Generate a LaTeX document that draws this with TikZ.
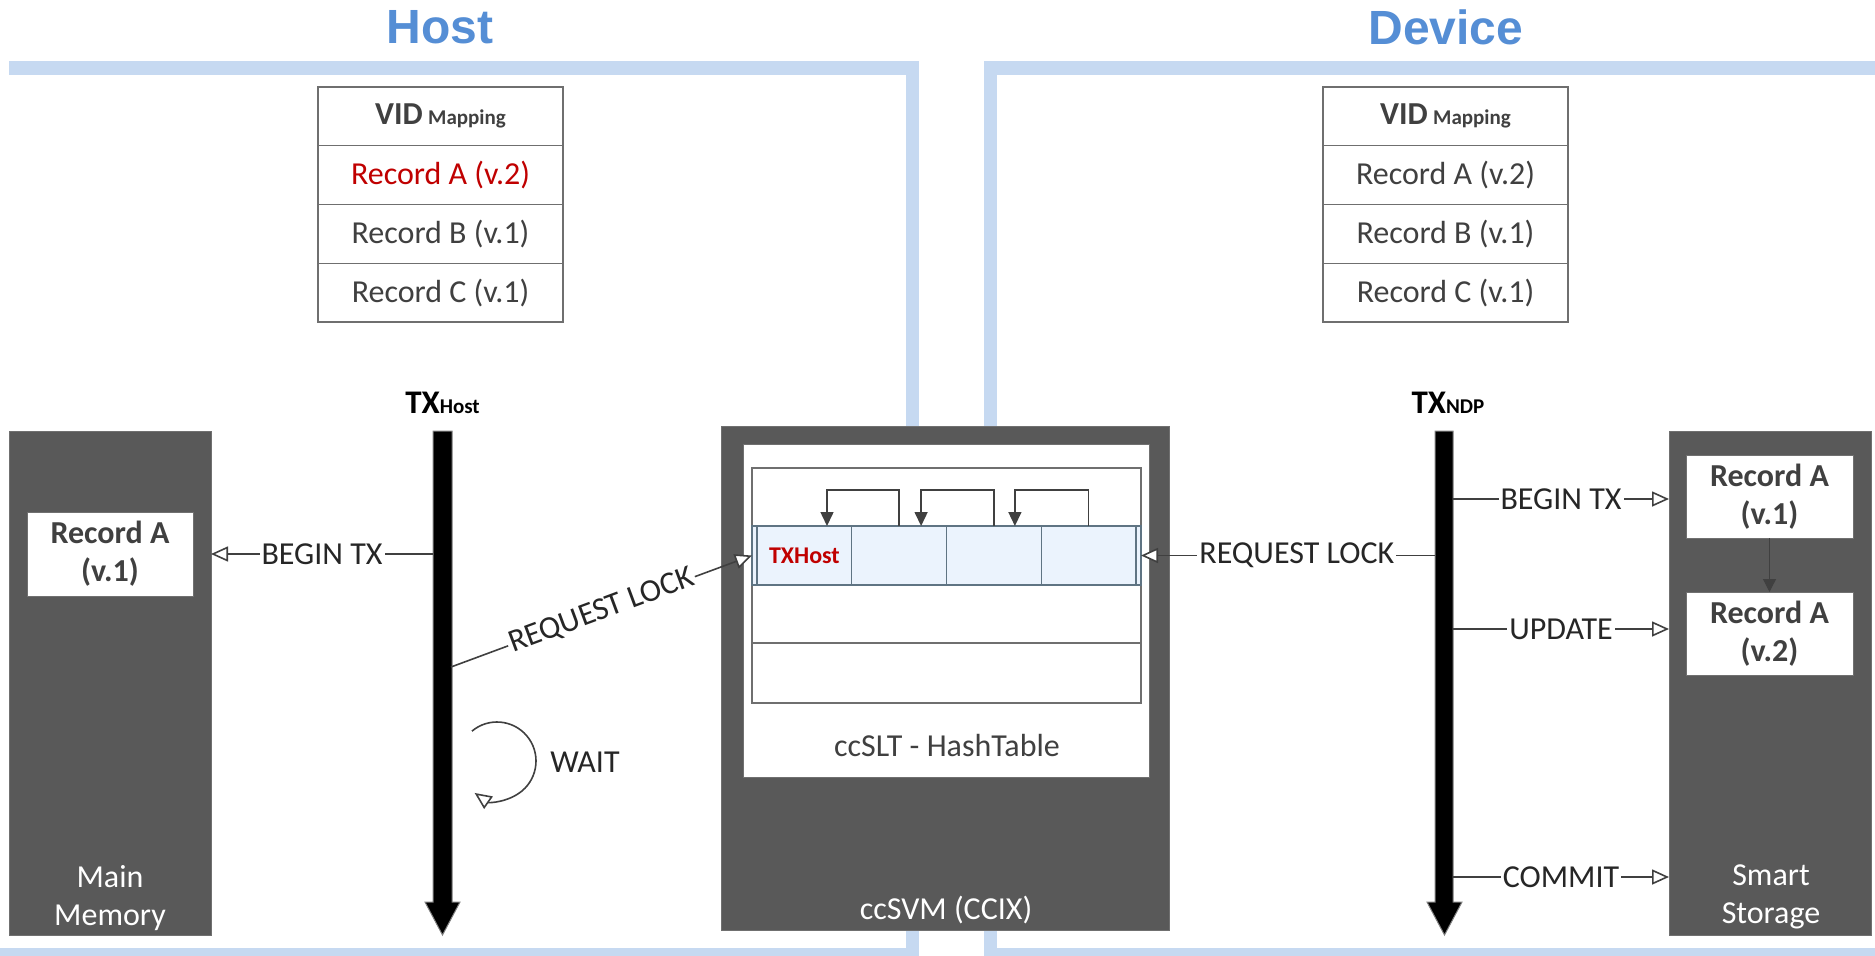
\documentclass[tikz,border=0pt]{standalone}
\usepackage{fontspec}
\setmainfont{Carlito}
\newfontfamily\titlefont{Liberation Sans}
\usetikzlibrary{arrows.meta}
\definecolor{band}{HTML}{C6D9F1}
\definecolor{ttl}{HTML}{558ED5}
\definecolor{dark}{HTML}{595959}
\definecolor{boxedge}{HTML}{707070}
\definecolor{txt}{HTML}{404040}
\definecolor{lbltxt}{HTML}{262626}
\definecolor{arr}{HTML}{404040}
\definecolor{rd}{HTML}{C00000}
\definecolor{cellfill}{HTML}{EBF3FD}
\definecolor{celledge}{HTML}{5F7483}
\definecolor{tblline}{HTML}{6F6F6F}
\begin{document}
\begin{tikzpicture}[x=1pt,y=-1pt,
  every node/.style={inner sep=0pt, outer sep=0pt},
  darkbox/.style={fill=dark, draw=boxedge, line width=1pt},
  recbox/.style={fill=white, draw=boxedge, line width=1pt, text=txt, align=center,
    font=\bfseries\fontsize{32}{38}\selectfont},
  vidrow/.style={draw=tblline, line width=1.3pt, fill=white, minimum width=245pt,
    minimum height=58.75pt, text=txt, font=\fontsize{32}{32}\selectfont},
  conn/.style={draw=arr, line width=1.6pt, -{Triangle[length=17pt,width=15pt,fill=white]}},
  lbl/.style={fill=white, inner sep=2pt, text=lbltxt, font=\fontsize{32}{32}\selectfont},
  wtxt/.style={text=white, align=center, font=\fontsize{32}{38}\selectfont},
  bandline/.style={draw=band, line width=13.5pt},
  txbar/.style={fill=black, draw=gray, line width=1pt},
  cell/.style={fill=cellfill, draw=celledge, line width=1.3pt, minimum width=94.75pt, minimum height=59pt},
  hasharrow/.style={draw=arr, line width=1.5pt, -{Triangle[length=14pt,width=13pt]}},
  titlestyle/.style={text=ttl, font=\titlefont\bfseries\fontsize{48}{48}\selectfont}
]
\useasboundingbox (0,0) rectangle (1875,956);
\clip (0,0) rectangle (1875,956);

% bands
\draw[bandline] (9,68) -- (912.5,68) -- (912.5,955) -- (0,955);
\draw[bandline] (1875,68) -- (990.5,68) -- (990.5,955) -- (1875,955);

% titles
\node[titlestyle] (host) at (440,27) {Host};
\node[titlestyle] (device) at (1446,27) {Device};

% VID tables
\node[vidrow] (hv0) at (440.5,116.4) {{\bfseries VID}\,{\bfseries\fontsize{21}{21}\selectfont Mapping}};
\node[vidrow, text=rd] (hv1) at (440.5,175.1) {Record A (v.2)};
\node[vidrow] (hv2) at (440.5,233.9) {Record B (v.1)};
\node[vidrow] (hv3) at (440.5,292.6) {Record C (v.1)};

\node[vidrow] (dv0) at (1445.5,116.4) {{\bfseries VID}\,{\bfseries\fontsize{21}{21}\selectfont Mapping}};
\node[vidrow] (dv1) at (1445.5,175.1) {Record A (v.2)};
\node[vidrow] (dv2) at (1445.5,233.9) {Record B (v.1)};
\node[vidrow] (dv3) at (1445.5,292.6) {Record C (v.1)};

% Main memory
\node[darkbox, minimum width=202pt, minimum height=504pt] (mainmem) at (110,683) {};
\node[recbox, minimum width=166pt, minimum height=84pt] (memrec) at (110,554) {Record A\\(v.1)};
\node[wtxt] (mmlbl) at (110,898) {Main\\Memory};

% TX host bar
\filldraw[txbar] (433,431) -- (452,431) -- (452,902) -- (460,902) -- (442.5,935) -- (425,902) -- (433,902) -- cycle;
\node[minimum width=19pt, minimum height=471pt] (txh) at (442.5,666.5) {};
\node[anchor=base, font=\bfseries, text=black] (txhl) at (442.5,413)
  {{\fontsize{33}{33}\selectfont TX}{\fontsize{21}{21}\selectfont Host}};

% ccSVM
\node[darkbox, minimum width=448pt, minimum height=504pt] (ccsvm) at (945,678) {};
\node[fill=white, draw=boxedge, line width=1pt, minimum width=406pt, minimum height=333pt] (panel) at (946,610.5) {};
\node[draw=tblline, line width=1.3pt, fill=white, minimum width=389pt, minimum height=235pt] (hash) at (946.5,585.5) {};
\draw[draw=tblline, line width=1.3pt] (hash.west |- 0,643) -- (hash.east |- 0,643);
\node[fill=cellfill, draw=celledge, line width=1.3pt, minimum width=389pt, minimum height=59pt] (row) at (946.5,555.5) {};
\node[cell, text=rd, font=\bfseries\fontsize{24}{24}\selectfont] (c1) at (804.4,555.5) {TXHost};
\node[cell] (c2) at (899.1,555.5) {};
\node[cell] (c3) at (993.9,555.5) {};
\node[cell] (c4) at (1088.6,555.5) {};
\draw[hasharrow] (c2.north) -- ++(0,-36) -| ([xshift=22.6pt]c1.north);
\draw[hasharrow] (c3.north) -- ++(0,-36) -| ([xshift=22pt]c2.north);
\draw[hasharrow] (c4.north) -- ++(0,-36) -| ([xshift=21pt]c3.north);
\node[text=txt, font=\fontsize{32}{32}\selectfont] (hashlbl) at (947,745) {ccSLT - HashTable};
\node[wtxt] (ccsvmlbl) at (946,910) {ccSVM (CCIX)};

% TX NDP bar
\filldraw[txbar] (1435,431) -- (1453,431) -- (1453,902) -- (1462,902) -- (1444.5,935) -- (1427,902) -- (1435,902) -- cycle;
\node[minimum width=18pt, minimum height=471pt] (txn) at (1444,666.5) {};
\node[anchor=base, font=\bfseries, text=black] (txnl) at (1448,413)
  {{\fontsize{33}{33}\selectfont TX}{\fontsize{21}{21}\selectfont NDP}};

% Smart storage
\node[darkbox, minimum width=202pt, minimum height=504pt] (storage) at (1770,683) {};
\node[recbox, minimum width=167pt, minimum height=83pt] (rec1) at (1769.5,496.5) {Record A\\(v.1)};
\node[recbox, minimum width=167pt, minimum height=83pt] (rec2) at (1769.5,633.5) {Record A\\(v.2)};
\node[wtxt] (sslbl) at (1771,897) {Smart\\Storage};
\draw[draw=arr, line width=1.2pt, -{Triangle[length=13pt,width=13pt]}] (rec1.south) -- (rec2.north);

% connectors
\draw[conn] (txh.west |- memrec.east) -- node[lbl] {BEGIN TX} (mainmem.east |- memrec.east);
\coordinate (rlh) at (451,667);
\draw[conn] (rlh) -- node[lbl, rotate=20.4] {REQUEST LOCK} (row.west);
\draw[conn] (txn.west |- row.east) -- node[lbl, pos=0.47] {REQUEST LOCK} (row.east);
\draw[conn] (txn.east |- 0,499) -- node[lbl] {BEGIN TX} (storage.west |- 0,499);
\draw[conn] (txn.east |- 0,629) -- node[lbl] {UPDATE} (storage.west |- 0,629);
\draw[conn] (txn.east |- 0,877) -- node[lbl] {COMMIT} (storage.west |- 0,877);

% wait loop
\coordinate (wc) at (497,761);
\draw[conn] ([shift={(-130:39)}]wc) arc[start angle=-130, end angle=125, radius=39];
\node[text=lbltxt, font=\fontsize{32}{32}\selectfont] (wait) at (585,762) {WAIT};
\end{tikzpicture}
\end{document}
